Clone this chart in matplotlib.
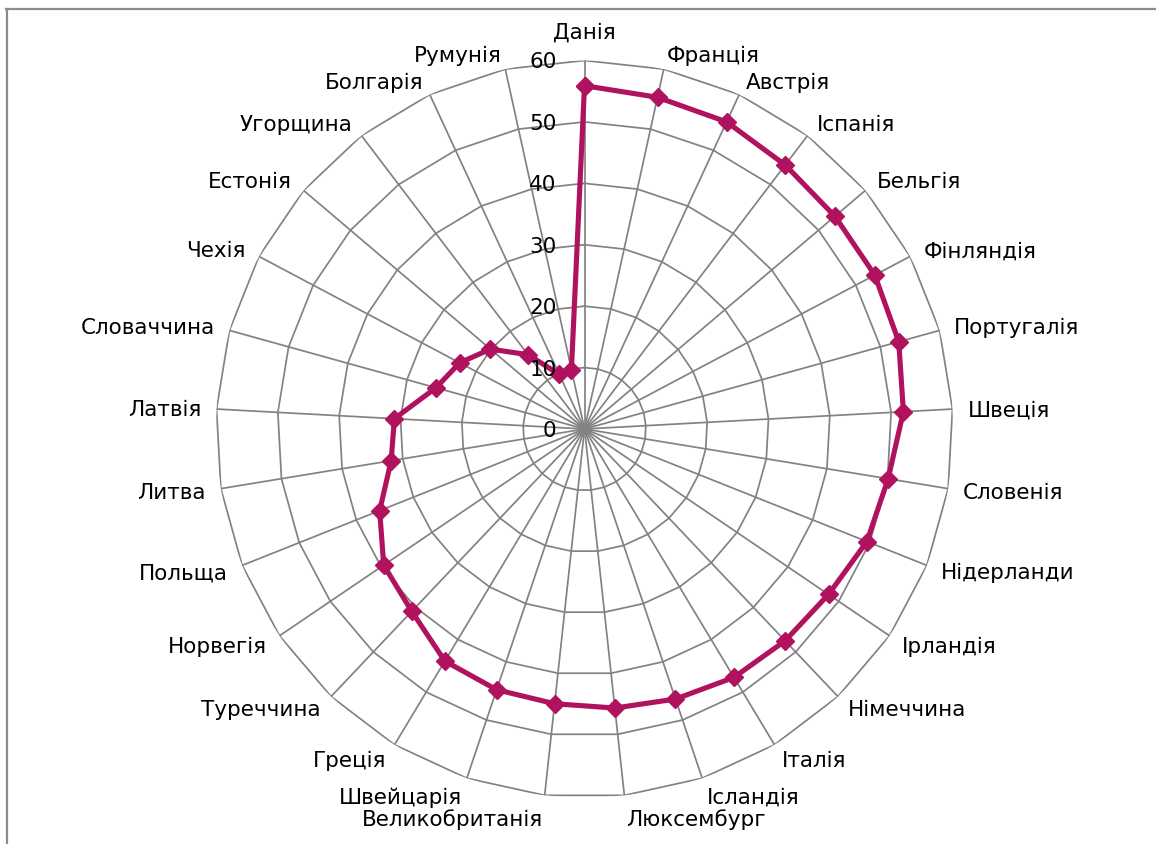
import numpy as np
import matplotlib
matplotlib.use("Agg")
import matplotlib.pyplot as plt
from matplotlib.lines import Line2D
from matplotlib.transforms import offset_copy

# Categories, clockwise from the top
countries = ["Данія", "Франція", "Австрія", "Іспанія", "Бельгія", "Фінляндія",
             "Португалія", "Швеція", "Словенія", "Нідерланди", "Ірландія",
             "Німеччина", "Італія", "Ісландія", "Люксембург", "Великобританія",
             "Швейцарія", "Греція", "Туреччина", "Норвегія", "Польща", "Литва",
             "Латвія", "Словаччина", "Чехія", "Естонія", "Угорщина", "Болгарія",
             "Румунія"]
values = [55.9, 55.3, 55.1, 54.0, 53.5, 53.5, 53.1, 52.0, 50.1, 49.5, 48.0,
          47.5, 47.2, 46.4, 45.7, 45.0, 44.8, 44.1, 40.9, 39.5, 35.9, 31.9,
          31.0, 25.1, 23.0, 20.1, 15.2, 9.8, 9.9]
r_ticks = [0, 10, 20, 30, 40, 50, 60]

plt.rcParams['font.family'] = ['DejaVu Sans']
FS = 15.5
GRID = "#828282"
LINE = "#B0125E"

W, H = 1156, 844
fig = plt.figure(figsize=(W / 100, H / 100), dpi=100)
cx, cy, R = 584.5, 429.0, 368.5
ax = fig.add_axes([(cx - R) / W, (H - cy - R) / H, 2 * R / W, 2 * R / H],
                  projection='polar')
ax.set_theta_offset(np.pi / 2)
ax.set_theta_direction(-1)
ax.set_ylim(0, r_ticks[-1])
ax.grid(False)
ax.spines['polar'].set_visible(False)
ax.set_xticks([])
ax.set_yticks([])
ax.patch.set_visible(False)

n = len(countries)
theta = 2 * np.pi * np.arange(n) / n
closed = np.append(theta, theta[0])

# polygonal rings and spokes
for r in r_ticks[1:]:
    ax.plot(closed, [r] * (n + 1), color=GRID, lw=1.25, zorder=1)
for t in theta:
    ax.plot([t, t], [0, r_ticks[-1]], color=GRID, lw=1.25, zorder=1)

# data series
ax.plot(closed, values + [values[0]], color=LINE, lw=3.7, marker='D',
        ms=9.2, mec=LINE, mfc=LINE, zorder=3, clip_on=False)

# radial value labels next to the top spoke
for r in r_ticks:
    ax.text(0, r, str(r), transform=offset_copy(ax.transData, fig, x=-28, y=-2, units='dots'),
            ha='right', va='center', fontsize=FS, color='black', zorder=4)

# category labels around the outer ring
half_h = 10.5
for t, name in zip(theta, countries):
    s, c = np.sin(t), np.cos(t)
    if abs(s) < 1e-9:
        ha = 'center'
        dy = 19 + half_h
    else:
        ha = 'left' if s > 0 else 'right'
        if c >= 0:
            dy = (5 + half_h) * c
        else:
            gap = 5 + 8 * (-c) ** 16
            dy = (gap + half_h) * c
    dx = 15 * s
    ax.text(t, r_ticks[-1], name,
            transform=offset_copy(ax.transData, fig, x=dx, y=dy - 2, units='dots'),
            ha=ha, va='center', fontsize=FS, color='black', clip_on=False)

# frame edges along the top and left of the canvas
fig.add_artist(Line2D([6 / W, 1], [1 - 9 / H, 1 - 9 / H], color="#8C8C8C", lw=1.6))
fig.add_artist(Line2D([7 / W, 7 / W], [0, 1 - 9 / H], color="#8C8C8C", lw=1.6))

fig.savefig("out.png", dpi=100, facecolor="white")
